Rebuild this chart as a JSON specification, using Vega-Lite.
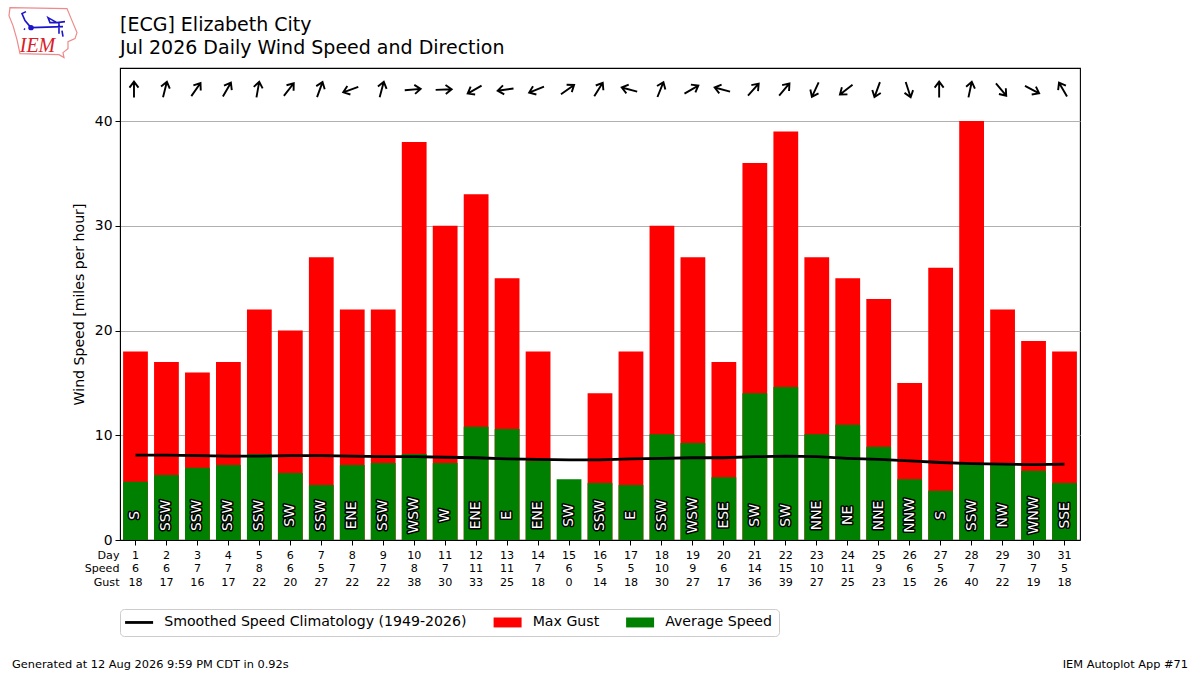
{
  "$schema": "https://vega.github.io/schema/vega-lite/v6.json",
  "autosize": "none",
  "padding": {"left": 120, "top": 68, "right": 120, "bottom": 135},
  "width": 960,
  "height": 472,
  "background": "white",
  "config": {
    "font": "DejaVu Sans",
    "view": {"stroke": "black", "strokeWidth": 1.1}
  },
  "title": {
    "text": ["[ECG] Elizabeth City", "Jul 2026 Daily Wind Speed and Direction"],
    "anchor": "start",
    "frame": "group",
    "font": "DejaVu Sans",
    "fontSize": 19,
    "fontWeight": "normal",
    "lineHeight": 23,
    "offset": -53,
    "color": "black"
  },
  "datasets": {
    "days": [
      {"day": 1, "dir": "S", "speed": 6, "avg": 5.55, "gust": 18, "arrow": 0, "clim": 8.1},
      {"day": 2, "dir": "SSW", "speed": 6, "avg": 6.2, "gust": 17, "arrow": 14, "clim": 8.1},
      {"day": 3, "dir": "SSW", "speed": 7, "avg": 6.9, "gust": 16, "arrow": 35, "clim": 8.05},
      {"day": 4, "dir": "SSW", "speed": 7, "avg": 7.15, "gust": 17, "arrow": 30, "clim": 8.0},
      {"day": 5, "dir": "SSW", "speed": 8, "avg": 8.2, "gust": 22, "arrow": 10, "clim": 8.0},
      {"day": 6, "dir": "SW", "speed": 6, "avg": 6.4, "gust": 20, "arrow": 38, "clim": 8.05},
      {"day": 7, "dir": "SSW", "speed": 5, "avg": 5.25, "gust": 27, "arrow": 20, "clim": 8.05},
      {"day": 8, "dir": "ENE", "speed": 7, "avg": 7.15, "gust": 22, "arrow": 250, "clim": 8.0},
      {"day": 9, "dir": "SSW", "speed": 7, "avg": 7.35, "gust": 22, "arrow": 15, "clim": 7.95},
      {"day": 10, "dir": "WSW", "speed": 8, "avg": 8.2, "gust": 38, "arrow": 85, "clim": 7.95},
      {"day": 11, "dir": "W", "speed": 7, "avg": 7.35, "gust": 30, "arrow": 88, "clim": 7.9},
      {"day": 12, "dir": "ENE", "speed": 11, "avg": 10.8, "gust": 33, "arrow": 240, "clim": 7.85},
      {"day": 13, "dir": "E", "speed": 11, "avg": 10.6, "gust": 25, "arrow": 262, "clim": 7.75},
      {"day": 14, "dir": "ENE", "speed": 7, "avg": 7.55, "gust": 18, "arrow": 248, "clim": 7.7},
      {"day": 15, "dir": "SW", "speed": 6, "avg": 5.8, "gust": 0, "arrow": 55, "clim": 7.65},
      {"day": 16, "dir": "SSW", "speed": 5, "avg": 5.45, "gust": 14, "arrow": 32, "clim": 7.65},
      {"day": 17, "dir": "E", "speed": 5, "avg": 5.25, "gust": 18, "arrow": 285, "clim": 7.75},
      {"day": 18, "dir": "SSW", "speed": 10, "avg": 10.1, "gust": 30, "arrow": 22, "clim": 7.8},
      {"day": 19, "dir": "WSW", "speed": 9, "avg": 9.25, "gust": 27, "arrow": 60, "clim": 7.85},
      {"day": 20, "dir": "ESE", "speed": 6, "avg": 6.0, "gust": 17, "arrow": 285, "clim": 7.85},
      {"day": 21, "dir": "SW", "speed": 14, "avg": 14.0, "gust": 36, "arrow": 42, "clim": 7.95},
      {"day": 22, "dir": "SW", "speed": 15, "avg": 14.6, "gust": 39, "arrow": 40, "clim": 8.0},
      {"day": 23, "dir": "NNE", "speed": 10, "avg": 10.1, "gust": 27, "arrow": 205, "clim": 7.95},
      {"day": 24, "dir": "NE", "speed": 11, "avg": 11.0, "gust": 25, "arrow": 232, "clim": 7.8},
      {"day": 25, "dir": "NNE", "speed": 9, "avg": 8.9, "gust": 23, "arrow": 200, "clim": 7.7},
      {"day": 26, "dir": "NNW", "speed": 6, "avg": 5.8, "gust": 15, "arrow": 162, "clim": 7.55},
      {"day": 27, "dir": "S", "speed": 5, "avg": 4.7, "gust": 26, "arrow": 0, "clim": 7.4},
      {"day": 28, "dir": "SSW", "speed": 7, "avg": 7.35, "gust": 40, "arrow": 12, "clim": 7.3},
      {"day": 29, "dir": "NW", "speed": 7, "avg": 7.3, "gust": 22, "arrow": 140, "clim": 7.25},
      {"day": 30, "dir": "WNW", "speed": 7, "avg": 6.6, "gust": 19, "arrow": 118, "clim": 7.2},
      {"day": 31, "dir": "SSE", "speed": 5, "avg": 5.45, "gust": 18, "arrow": 330, "clim": 7.25}
    ]
  },
  "data": {"name": "days"},
  "encoding": {
    "x": {
      "field": "day",
      "type": "ordinal",
      "sort": null,
      "title": null,
      "scale": {"paddingInner": 0.2, "paddingOuter": 0.1},
      "axis": {
        "labelAngle": 0,
        "labelFontSize": 11.1,
        "labelColor": "black",
        "labelPadding": 4,
        "tickSize": 5,
        "tickColor": "black",
        "domainColor": "black",
        "grid": false
      }
    }
  },
  "layer": [
    {
      "mark": {"type": "bar", "clip": false},
      "encoding": {
        "y": {
          "field": "gust",
          "type": "quantitative",
          "title": "Wind Speed [miles per hour]",
          "scale": {"domain": [0, 45.06], "nice": false},
          "axis": {
            "values": [0, 10, 20, 30, 40],
            "grid": true,
            "gridColor": "#b0b0b0",
            "gridWidth": 1,
            "labelFontSize": 13.9,
            "labelColor": "black",
            "labelPadding": 3,
            "tickSize": 5,
            "tickColor": "black",
            "domainColor": "black",
            "titleFontSize": 14.1,
            "titleFontWeight": "normal",
            "titleColor": "black",
            "titlePadding": 8
          }
        },
        "color": {
          "datum": "Max Gust",
          "type": "nominal",
          "scale": {
            "domain": ["Smoothed Speed Climatology (1949-2026)", "Max Gust", "Average Speed"],
            "range": ["black", "red", "green"]
          },
          "legend": {
            "title": null,
            "orient": "none",
            "legendX": 0,
            "legendY": 541,
            "direction": "horizontal",
            "columns": 3,
            "columnPadding": 26.5,
            "symbolSize": 196,
            "labelOffset": 24,
            "labelFontSize": 14.15,
            "labelLimit": 400,
            "labelColor": "black",
            "padding": 6,
            "fillColor": "white",
            "strokeColor": "#cccccc",
            "cornerRadius": 4,
            "encoding": {
              "symbols": {
                "shape": {"value": {"signal": "datum.value == 'Smoothed Speed Climatology (1949-2026)' ? 'M-1.14,-0.2 H2.86 V0.2 H-1.14 Z' : 'M-1.14,-0.71 H2.86 V0.71 H-1.14 Z'"}},
                "strokeWidth": {"value": 0}
              }
            }
          }
        }
      }
    },
    {
      "mark": {"type": "bar", "clip": false},
      "encoding": {
        "y": {"field": "avg", "type": "quantitative"},
        "color": {"datum": "Average Speed", "type": "nominal"}
      }
    },
    {
      "mark": {"type": "line", "color": "black", "strokeWidth": 2.8},
      "encoding": {
        "y": {"field": "clim", "type": "quantitative"}
      }
    },
    {
      "mark": {"type": "text", "angle": 270, "align": "center", "baseline": "middle", "fontSize": 13.9, "stroke": "black", "strokeWidth": 3, "strokeJoin": "round"},
      "encoding": {
        "y": {"datum": 2.35, "type": "quantitative"},
        "text": {"field": "dir"}
      }
    },
    {
      "mark": {"type": "text", "angle": 270, "align": "center", "baseline": "middle", "fontSize": 13.9, "color": "white"},
      "encoding": {
        "y": {"datum": 2.35, "type": "quantitative"},
        "text": {"field": "dir"}
      }
    },
    {
      "mark": {"type": "point", "shape": "M0,8 L0,-8 M-4.5,-2 L0,-8 L4.5,-2", "filled": false, "stroke": "black", "strokeWidth": 1.9, "size": 4, "opacity": 1, "xOffset": -1.5},
      "encoding": {
        "y": {"datum": 43, "type": "quantitative"},
        "angle": {"field": "arrow", "type": "quantitative", "scale": null}
      }
    },
    {
      "mark": {"type": "text", "fontSize": 11.1, "baseline": "middle", "dy": 29, "color": "black"},
      "encoding": {
        "y": {"datum": 0, "type": "quantitative"},
        "text": {"field": "speed"}
      }
    },
    {
      "mark": {"type": "text", "fontSize": 11.1, "baseline": "middle", "dy": 42.5, "color": "black"},
      "encoding": {
        "y": {"datum": 0, "type": "quantitative"},
        "text": {"field": "gust"}
      }
    },
    {
      "data": {"values": [{"label": "Day"}]},
      "mark": {"type": "text", "fontSize": 11.1, "baseline": "middle", "align": "right", "dx": -16, "dy": 15.5, "color": "black"},
      "encoding": {
        "x": {"datum": 1, "type": "ordinal"},
        "y": {"datum": 0, "type": "quantitative"},
        "text": {"field": "label"}
      }
    },
    {
      "data": {"values": [{"label": "Speed"}]},
      "mark": {"type": "text", "fontSize": 11.1, "baseline": "middle", "align": "right", "dx": -16, "dy": 29, "color": "black"},
      "encoding": {
        "x": {"datum": 1, "type": "ordinal"},
        "y": {"datum": 0, "type": "quantitative"},
        "text": {"field": "label"}
      }
    },
    {
      "data": {"values": [{"label": "Gust"}]},
      "mark": {"type": "text", "fontSize": 11.1, "baseline": "middle", "align": "right", "dx": -16, "dy": 42.5, "color": "black"},
      "encoding": {
        "x": {"datum": 1, "type": "ordinal"},
        "y": {"datum": 0, "type": "quantitative"},
        "text": {"field": "label"}
      }
    },
    {
      "data": {"values": [{"label": "Generated at 12 Aug 2026 9:59 PM CDT in 0.92s"}]},
      "mark": {"type": "text", "fontSize": 11.35, "baseline": "middle", "align": "left", "dx": -123.5, "dy": 125, "color": "black"},
      "encoding": {
        "x": {"datum": 1, "type": "ordinal"},
        "y": {"datum": 0, "type": "quantitative"},
        "text": {"field": "label"}
      }
    },
    {
      "data": {"values": [{"label": "IEM Autoplot App #71"}]},
      "mark": {"type": "text", "fontSize": 11.35, "baseline": "middle", "align": "right", "dx": 123.5, "dy": 125, "color": "black"},
      "encoding": {
        "x": {"datum": 31, "type": "ordinal"},
        "y": {"datum": 0, "type": "quantitative"},
        "text": {"field": "label"}
      }
    },
    {
      "data": {"values": [{"label": "IEM"}]},
      "mark": {"type": "text", "font": "Liberation Serif", "fontStyle": "italic", "fontSize": 20, "baseline": "middle", "align": "center", "dx": -98, "dy": -23, "color": "#d8202a"},
      "encoding": {
        "x": {"datum": 1, "type": "ordinal"},
        "y": {"datum": 45, "type": "quantitative"},
        "text": {"field": "label"}
      }
    },
    {
      "data": {"values": [{"label": "outline"}]},
      "mark": {"type": "point", "shape": "M-34,-25 L23,-24 L28,-12 L33,0 L31,6 L24,9 L24,16 L19,20 L20,25 L15,22 L-24,21 L-27,7 L-31,-7 L-35,-17 Z", "filled": false, "stroke": "#ee8a8a", "strokeWidth": 1.2, "size": 4, "opacity": 1, "xOffset": -91.5, "yOffset": -36},
      "encoding": {
        "x": {"datum": 1, "type": "ordinal"},
        "y": {"datum": 45, "type": "quantitative"}
      }
    },
    {
      "data": {"values": [{"label": "station model"}]},
      "mark": {"type": "point", "shape": "M-13,-5 L19,-6 M-13,-5 L-19,-12 L-22,-19 L-18,-21 M4,-15 L13,-10 L6,-10 Z M13,-10 L21,-11 M15,-11 L15,1 M18,-2 L19,4 M-20,-4 L-19,-3", "filled": false, "stroke": "#1c14c8", "strokeWidth": 1.6, "size": 4, "opacity": 1, "xOffset": -91.5, "yOffset": -36},
      "encoding": {
        "x": {"datum": 1, "type": "ordinal"},
        "y": {"datum": 45, "type": "quantitative"}
      }
    },
    {
      "data": {"values": [{"label": "station dot"}]},
      "mark": {"type": "point", "shape": "circle", "filled": true, "color": "#1c14c8", "size": 30, "opacity": 1, "xOffset": -104.5, "yOffset": -41},
      "encoding": {
        "x": {"datum": 1, "type": "ordinal"},
        "y": {"datum": 45, "type": "quantitative"}
      }
    }
  ]
}
